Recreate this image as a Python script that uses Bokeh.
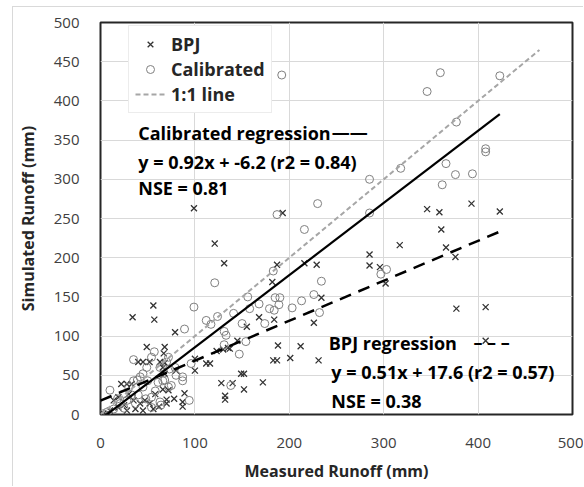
from bokeh.plotting import figure
from bokeh.models import Label, Legend, LegendItem, FixedTicker, Range1d
from bokeh.embed import file_html
from bokeh.resources import INLINE

# ---------------- data ----------------
cal_measured = [192, 360, 346, 423, 377, 408, 408, 366, 376, 394, 362, 318, 285, 230, 187, 285, 216, 297, 303, 183,
                234, 121, 99, 203, 213, 226, 232, 185, 190, 189, 168, 156, 184, 174, 150, 131, 133, 124, 154, 131,
                147, 138, 158, 179, 141, 112, 117, 89,
                35, 45, 54, 57, 63, 70, 72, 66, 75, 87, 87, 73, 94, 63, 54, 49, 42, 50, 35, 39, 61, 68,
                72, 24, 28, 37, 21, 14, 7, 3, 10, 54, 64, 96, 79, 30, 40, 45, 58, 18, 25, 33, 48, 80]
cal_simulated = [433, 436, 412, 432, 373, 335, 339, 320, 306, 307, 293, 314, 300, 269, 255, 257, 236, 179, 185, 183,
                 170, 168, 137, 136, 145, 153, 130, 149, 149, 140, 141, 150, 133, 116, 116, 106, 101, 125, 93, 89,
                 77, 37, 135, 135, 129, 120, 115, 109,
                 70, 52, 73, 80, 60, 67, 73, 43, 37, 48, 43, 58, 18, 16, 9, 60, 48, 43, 43, 44, 41, 44,
                 35, 26, 18, 14, 14, 7, 3, 1, 31, 22, 12, 65, 60, 35, 25, 35, 30, 20, 8, 25, 20, 50]

bpj_measured = [99, 121, 131, 193, 187, 216, 229, 285, 285, 296, 317, 302, 346, 359, 393, 423, 361, 366, 376, 377,
                408, 408, 182, 234, 226, 212, 201, 231, 168, 184, 155, 145, 137, 188, 183, 187, 149, 152, 172, 128,
                140, 152, 132, 132, 34, 56, 57, 79, 123, 130, 135, 100, 100, 112, 116,
                49, 68, 67, 40, 45, 52, 63, 68, 80, 66, 68, 22, 28, 33, 66, 72, 89, 87, 87, 70,
                70, 30, 35, 42, 47, 52, 56, 37, 28, 19, 14, 19, 3, 5, 58, 62, 45, 25, 10, 78]
bpj_simulated = [263, 218, 193, 257, 191, 193, 191, 204, 190, 188, 216, 167, 262, 258, 269, 259, 236, 213, 201, 135,
                 137, 94, 169, 149, 117, 87, 72, 69, 124, 121, 112, 94, 84, 88, 69, 69, 52, 52, 41, 40,
                 40, 32, 24, 19, 124, 139, 121, 105, 81, 83, 85, 71, 56, 65, 65,
                 86, 86, 78, 67, 67, 67, 67, 66, 56, 60, 52, 39, 39, 39, 32, 31, 27, 16, 10, 19,
                 14, 26, 18, 14, 18, 14, 7, 7, 5, 9, 18, 22, 1, 0, 26, 10, 5, 12, 5, 20]

one_to_one_x = [0, 465]
one_to_one_y = [0, 465]
cal_fit_x = [0, 423]
cal_fit_y = [-6.2, 383.0]
bpj_fit_x = [0, 423]
bpj_fit_y = [17.6, 233.3]

x_ticks = [0, 100, 200, 300, 400, 500]
y_ticks = [0, 50, 100, 150, 200, 250, 300, 350, 400, 450, 500]

FONT = "Open Sans"

p = figure(width=571, height=480, x_range=Range1d(0, 500), y_range=Range1d(0, 500),
           output_backend="svg", toolbar_location=None,
           min_border_left=84, min_border_top=15, min_border_right=12, min_border_bottom=73,
           margin=(6, 0, 0, 12),
           styles={"border-left": "1px solid #d9d9d9", "border-top": "1px solid #d9d9d9"})
p.background_fill_color = "white"
p.border_fill_color = "white"
p.outline_line_color = "#262626"
p.outline_line_width = 2

for ax, ticks in ((p.xaxis, x_ticks), (p.yaxis, y_ticks)):
    ax.ticker = FixedTicker(ticks=ticks)
    ax.axis_line_color = None
    ax.major_tick_line_color = None
    ax.minor_tick_line_color = None
    ax.major_label_text_font = FONT
    ax.major_label_text_font_size = "15px"
    ax.major_label_text_color = "#404040"
    ax.axis_label_text_font = FONT
    ax.axis_label_text_font_style = "bold"
    ax.axis_label_text_font_size = "16px"
    ax.axis_label_text_color = "#262626"

p.xaxis.axis_label = "Measured Runoff (mm)"
p.yaxis.axis_label = "Simulated Runoff (mm)"
p.xaxis.major_label_standoff = 17
p.yaxis.major_label_standoff = 15
p.xaxis.axis_label_standoff = 9
p.yaxis.axis_label_standoff = 12

p.xgrid.grid_line_color = "#d9d9d9"
p.ygrid.grid_line_color = "#d9d9d9"

r_bpj = p.scatter(bpj_measured, bpj_simulated, marker="x", size=8.5, line_color="#333333", line_width=1.3)
r_cal = p.scatter(cal_measured, cal_simulated, marker="circle", size=8, line_color="#7f7f7f",
                  fill_color=None, line_width=1)
r_11 = p.line(one_to_one_x, one_to_one_y, line_color="#a6a6a6", line_dash="5 3", line_width=2)
p.line(cal_fit_x, cal_fit_y, line_color="black", line_width=2.2)
p.line(bpj_fit_x, bpj_fit_y, line_color="black", line_width=2.5, line_dash="12 8")

legend = Legend(items=[LegendItem(label="BPJ", renderers=[r_bpj]),
                       LegendItem(label="Calibrated", renderers=[r_cal]),
                       LegendItem(label="1:1 line", renderers=[r_11])],
                location=(28, 301), padding=6, spacing=1, glyph_width=30, glyph_height=20,
                label_height=20, label_standoff=6, border_line_color="#d9d9d9", border_line_width=1,
                background_fill_color="white", background_fill_alpha=1,
                label_text_font=FONT, label_text_font_style="bold", label_text_font_size="18px",
                label_text_color="#262626")
p.add_layout(legend)

def note(x, y, text):
    p.add_layout(Label(x=x, y=y, text=text, text_font=FONT, text_font_style="bold",
                       text_font_size="18px", text_color="black", text_align="left",
                       text_baseline="middle"))

note(40, 358.8, "Calibrated regression")
note(245, 360.5, "——")
note(40, 321.8, "y = 0.92x + -6.2 (r2 = 0.84)")
note(40, 288.3, "NSE = 0.81")
note(241.8, 91.5, "BPJ regression")
note(395, 93, "– – –")
note(244.5, 54, "y = 0.51x + 17.6 (r2 = 0.57)")
note(244.5, 17.5, "NSE = 0.38")

open("out.html", "w").write(file_html(p, INLINE))
